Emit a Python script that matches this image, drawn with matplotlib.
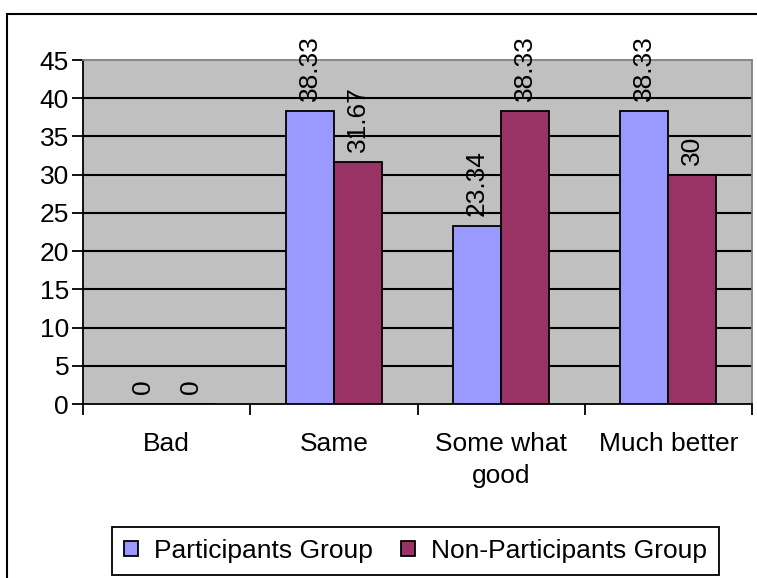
import matplotlib
matplotlib.use("Agg")
import matplotlib.pyplot as plt
import numpy as np
from matplotlib.lines import Line2D

plt.rcParams['font.family'] = ['Liberation Sans', 'DejaVu Sans']

categories = ["Bad", "Same", "Some what\ngood", "Much better"]
participants = [0, 38.33, 23.34, 38.33]
non_participants = [0, 31.67, 38.33, 30]
series_names = ["Participants Group", "Non-Participants Group"]
yticks = [0, 5, 10, 15, 20, 25, 30, 35, 40, 45]

W, H = 757, 578
FS = 19
fig = plt.figure(figsize=(W / 100, H / 100), dpi=100)
fig.patch.set_facecolor("white")

# outer chart frame (only left and top edges are inside the image)
fig.add_artist(Line2D([7 / W, 7 / W], [0, 1 - 14 / H], color="black", lw=1.5))
fig.add_artist(Line2D([7 / W, 1], [1 - 14 / H, 1 - 14 / H], color="black", lw=1.5))

ax = fig.add_axes([83 / W, (H - 404) / H, (752 - 83) / W, (404 - 60) / H])
ax.set_facecolor("#C0C0C0")

x = np.arange(len(categories))
w = 0.2875
b1 = ax.bar(x - w / 2, participants, w, color="#9999FF", edgecolor="black", lw=1.3, zorder=3, label=series_names[0])
b2 = ax.bar(x + w / 2, non_participants, w, color="#993366", edgecolor="black", lw=1.3, zorder=3, label=series_names[1])

for bars in (b1, b2):
    ax.bar_label(bars, fmt="%g", rotation=90, padding=7, fontsize=FS)

ax.set_ylim(0, 45)
ax.set_xlim(-0.5, len(categories) - 0.5)
ax.set_yticks(yticks)
ax.set_yticklabels([str(t) for t in yticks], fontsize=FS)
for t in yticks[1:-1]:
    ax.axhline(t, color="black", lw=1.5, zorder=1)

# category boundaries get the tick marks, labels sit at the centres
ax.set_xticks(np.arange(len(categories) + 1) - 0.5)
ax.set_xticklabels([])
ax.set_xticks(x, minor=True)
ax.set_xticklabels(categories, minor=True, fontsize=FS, linespacing=1.45)
ax.tick_params(axis="x", which="minor", length=0, pad=20)
ax.tick_params(axis="x", which="major", length=8, width=1.3, direction="out")
ax.tick_params(axis="y", length=8, width=1.3, direction="out", pad=2)

for side in ("top", "right"):
    ax.spines[side].set_color("#808080")
    ax.spines[side].set_linewidth(1.3)
for side in ("left", "bottom"):
    ax.spines[side].set_color("black")
    ax.spines[side].set_linewidth(1.3)

leg = fig.legend(loc="center", bbox_to_anchor=(415.5 / W, 1 - 551 / H), ncol=2,
                 fontsize=FS, frameon=True, fancybox=False, framealpha=1,
                 edgecolor="black", handlelength=0.53, handleheight=0.53,
                 handletextpad=0.6, columnspacing=1.1, borderpad=0.45,
                 borderaxespad=0)
leg.get_frame().set_linewidth(1.3)

fig.savefig("out.png", dpi=100)
